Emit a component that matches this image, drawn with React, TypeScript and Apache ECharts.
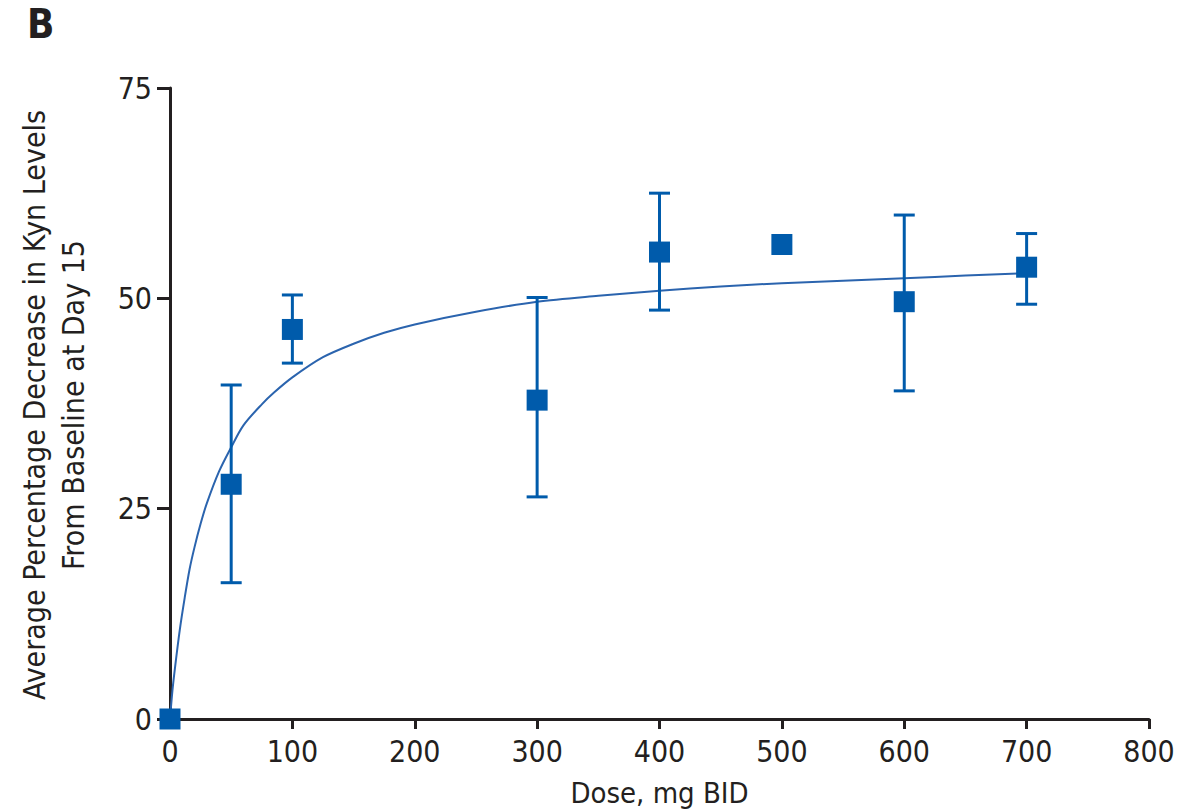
import React, { useEffect, useRef } from "react";
import * as echarts from "echarts";

const doses = [0, 50, 100, 300, 400, 500, 600, 700];
const means = [0, 27.9, 46.3, 37.9, 55.5, 56.4, 49.6, 53.7];
const lower = [null, 16.2, 42.3, 26.4, 48.6, null, 39.0, 49.3];
const upper = [null, 39.7, 50.4, 50.1, 62.5, null, 59.9, 57.7];

const curveDoses = [0, 2, 4, 8, 12, 16, 20, 25, 30, 40, 50, 60, 75, 85, 100, 125, 150, 175, 200, 250, 300, 350, 400, 450, 500, 550, 600, 650, 700];
const curveValues = [0, 3.4, 6.0, 10.6, 14.4, 17.8, 20.4, 23.2, 25.6, 29.4, 32.3, 34.9, 37.4, 38.8, 40.6, 43.0, 44.6, 45.9, 46.9, 48.4, 49.6, 50.3, 50.9, 51.4, 51.8, 52.1, 52.4, 52.7, 53.0];

const panelLabel = "B";
const yTitleLines = ["Average Percentage Decrease in Kyn Levels", "From Baseline at Day 15"];
const xTitle = "Dose, mg BID";

const FONT = "'DejaVu Sans Condensed', 'Liberation Sans Narrow', 'Liberation Sans', sans-serif";
const INK = "#231f20";
const BLUE = "#005bab";

export default function App() {
  const ref = useRef<HTMLDivElement>(null);
  useEffect(() => {
    if (!ref.current) return;
    const chart = echarts.init(ref.current, null, { renderer: "svg" });
    const errData = doses
      .map((d, i) => [d, lower[i], upper[i]])
      .filter((r) => r[1] != null && r[2] != null);
    const option: any = {
      animation: false,
      backgroundColor: "#ffffff",
      grid: { left: 170, right: 45, top: 88, bottom: 91 },
      xAxis: {
        type: "value",
        min: 0,
        max: 800,
        interval: 100,
        name: xTitle,
        nameLocation: "middle",
        nameGap: 59,
        nameTextStyle: { fontFamily: FONT, fontSize: 29, color: INK },
        axisLine: { show: true, onZero: false, lineStyle: { color: INK, width: 3 } },
        axisTick: { show: true, length: 10, lineStyle: { color: INK, width: 3 } },
        axisLabel: { fontFamily: FONT, fontSize: 30, color: INK, margin: 17 },
        splitLine: { show: false },
      },
      yAxis: {
        type: "value",
        min: 0,
        max: 75,
        interval: 25,
        axisLine: { show: true, onZero: false, lineStyle: { color: INK, width: 3 } },
        axisTick: { show: true, length: 13, lineStyle: { color: INK, width: 3 } },
        axisLabel: { fontFamily: FONT, fontSize: 30, color: INK, margin: 18 },
        splitLine: { show: false },
      },
      graphic: [
        {
          type: "text",
          left: 27,
          top: 4,
          style: { text: panelLabel, fontFamily: FONT, fontSize: 40, fontWeight: 600, fill: INK },
        },
        {
          type: "text",
          x: 34,
          y: 405,
          rotation: Math.PI / 2,
          style: {
            text: yTitleLines[0],
            fontFamily: FONT,
            fontSize: 30,
            fill: INK,
            align: "center",
            verticalAlign: "middle",
          },
        },
        {
          type: "text",
          x: 73,
          y: 405,
          rotation: Math.PI / 2,
          style: {
            text: yTitleLines[1],
            fontFamily: FONT,
            fontSize: 30,
            fill: INK,
            align: "center",
            verticalAlign: "middle",
          },
        },
      ],
      series: [
        {
          type: "line",
          data: curveDoses.map((d, i) => [d, curveValues[i]]),
          smooth: 0.3,
          symbol: "none",
          lineStyle: { color: "#2b64ae", width: 2 },
          z: 2,
        },
        {
          type: "custom",
          data: errData,
          clip: false,
          z: 3,
          renderItem: (params: any, api: any) => {
            const x = api.value(0);
            const lo = api.coord([x, api.value(1)]);
            const hi = api.coord([x, api.value(2)]);
            const hw = 10.5;
            const style = { stroke: BLUE, lineWidth: 3 };
            return {
              type: "group",
              children: [
                { type: "line", shape: { x1: lo[0], y1: lo[1], x2: hi[0], y2: hi[1] }, style },
                { type: "line", shape: { x1: lo[0] - hw, y1: lo[1], x2: lo[0] + hw, y2: lo[1] }, style },
                { type: "line", shape: { x1: hi[0] - hw, y1: hi[1], x2: hi[0] + hw, y2: hi[1] }, style },
              ],
            };
          },
        },
        {
          type: "scatter",
          data: doses.map((d, i) => [d, means[i]]),
          symbol: "rect",
          symbolSize: 21,
          clip: false,
          itemStyle: { color: BLUE, opacity: 1 },
          z: 4,
        },
      ],
    };
    chart.setOption(option);
    return () => chart.dispose();
  }, []);
  return (
    <div
      ref={ref}
      style={{ position: "fixed", left: 0, top: 0, width: 1194, height: 812, background: "#fff" }}
    />
  );
}
